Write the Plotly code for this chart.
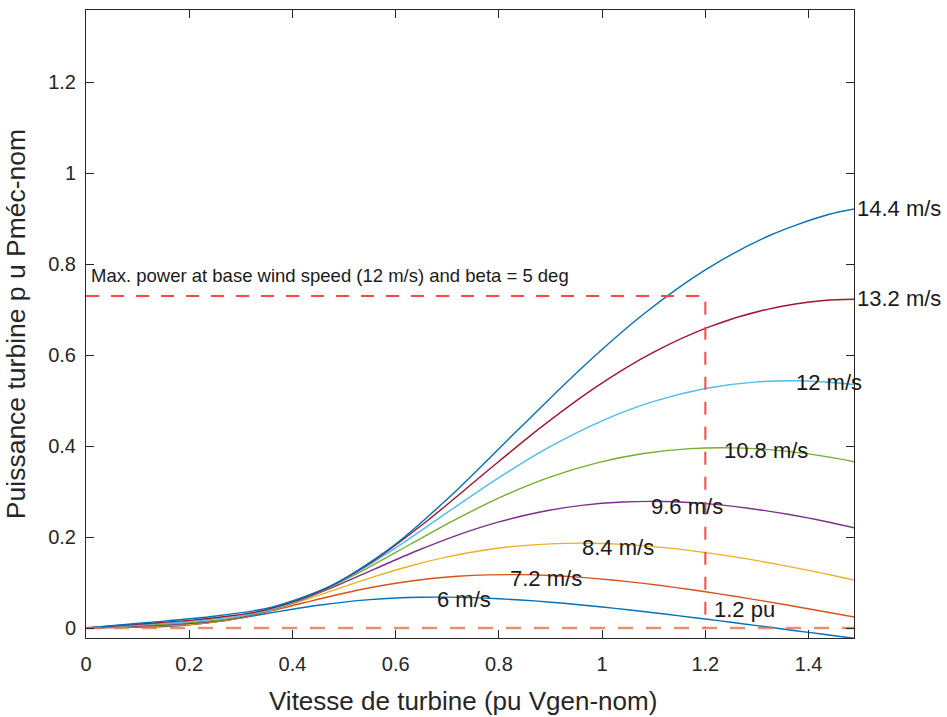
import plotly.graph_objects as go

# ---------------- data ----------------
wind_labels = ["6 m/s", "7.2 m/s", "8.4 m/s", "9.6 m/s", "10.8 m/s", "12 m/s", "13.2 m/s", "14.4 m/s"]
curve_colors = ["#0072BD", "#D95319", "#EDB120", "#7E2F8E", "#77AC30", "#4DBEEE", "#A2142F", "#0072BD"]

x_6 = [0, 0.05, 0.10, 0.15, 0.20, 0.25, 0.30, 0.35, 0.40, 0.45, 0.50, 0.55, 0.60, 0.65, 0.70, 0.75,
       0.80, 0.85, 0.90, 0.95, 1.00, 1.05, 1.10, 1.15, 1.20, 1.25, 1.30, 1.35, 1.40, 1.45, 1.50]
y_6 = [0, 0.00087, 0.00178, 0.00332, 0.00693, 0.01336, 0.02205, 0.03176, 0.04133, 0.04990, 0.05696,
       0.06228, 0.06582, 0.06765, 0.06791, 0.06678, 0.06443, 0.06104, 0.05676, 0.05175, 0.04614,
       0.04004, 0.03354, 0.02674, 0.01970, 0.01250, 0.00518, -0.00221, -0.00964, -0.01706, -0.02447]

x_72 = [0, 0.06, 0.12, 0.18, 0.24, 0.30, 0.36, 0.42, 0.48, 0.54, 0.60, 0.66, 0.72, 0.78, 0.84, 0.90,
        0.96, 1.02, 1.08, 1.14, 1.20, 1.26, 1.32, 1.38, 1.44, 1.50]
y_72 = [0, 0.00151, 0.00308, 0.00573, 0.01197, 0.02309, 0.03810, 0.05488, 0.07142, 0.08623, 0.09843,
        0.10762, 0.11373, 0.11689, 0.11734, 0.11539, 0.11133, 0.10547, 0.09808, 0.08943, 0.07973,
        0.06918, 0.05796, 0.04620, 0.03405, 0.02160]

x_84 = [0, 0.07, 0.14, 0.21, 0.28, 0.35, 0.42, 0.49, 0.56, 0.63, 0.70, 0.77, 0.84, 0.91, 0.98, 1.05,
        1.12, 1.19, 1.26, 1.33, 1.40, 1.47, 1.54]
y_84 = [0, 0.00239, 0.00489, 0.00910, 0.01901, 0.03667, 0.06050, 0.08715, 0.11341, 0.13693, 0.15630,
        0.17089, 0.18060, 0.18562, 0.18634, 0.18323, 0.17679, 0.16748, 0.15575, 0.14201, 0.12660,
        0.10986, 0.09203]

x_96 = [0, 0.08, 0.16, 0.24, 0.32, 0.40, 0.48, 0.56, 0.64, 0.72, 0.80, 0.88, 0.96, 1.04, 1.12, 1.20,
        1.28, 1.36, 1.44, 1.52]
y_96 = [0, 0.00357, 0.00730, 0.01359, 0.02838, 0.05473, 0.09030, 0.13009, 0.16928, 0.20440, 0.23331,
        0.25509, 0.26958, 0.27707, 0.27815, 0.27352, 0.26389, 0.25000, 0.23249, 0.21197]

x_108 = [0, 0.09, 0.18, 0.27, 0.36, 0.45, 0.54, 0.63, 0.72, 0.81, 0.90, 0.99, 1.08, 1.17, 1.26, 1.35,
         1.44, 1.53]
y_108 = [0, 0.00509, 0.01039, 0.01935, 0.04040, 0.07793, 0.12857, 0.18523, 0.24103, 0.29103, 0.33220,
         0.36320, 0.38383, 0.39451, 0.39604, 0.38944, 0.37573, 0.35596]

x_12 = [0, 0.1, 0.2, 0.3, 0.4, 0.5, 0.6, 0.7, 0.8, 0.9, 1.0, 1.1, 1.2, 1.3, 1.4, 1.5]
y_12 = [0, 0.00698, 0.01425, 0.02654, 0.05542, 0.10690, 0.17637, 0.25409, 0.33063, 0.39922, 0.45569,
        0.49822, 0.52652, 0.54116, 0.54326, 0.53421]

x_132 = [0, 0.11, 0.22, 0.33, 0.44, 0.55, 0.66, 0.77, 0.88, 0.99, 1.10, 1.21, 1.32, 1.43, 1.54]
y_132 = [0, 0.00929, 0.01897, 0.03533, 0.07376, 0.14228, 0.23475, 0.33819, 0.44007, 0.53136, 0.60652,
         0.66313, 0.70080, 0.72028, 0.72308]

x_144 = [0, 0.12, 0.24, 0.36, 0.48, 0.60, 0.72, 0.84, 0.96, 1.08, 1.20, 1.32, 1.44, 1.56]
y_144 = [0, 0.01206, 0.02462, 0.04586, 0.09577, 0.18472, 0.30477, 0.43907, 0.57133, 0.68985, 0.78743,
         0.86092, 0.90983, 0.93512]

curves_x = [x_6, x_72, x_84, x_96, x_108, x_12, x_132, x_144]
curves_y = [y_6, y_72, y_84, y_96, y_108, y_12, y_132, y_144]

# curve label positions (left edge, vertical middle); None -> just right of the axes box
label_x = [0.676, 0.818, 0.958, 1.090, 1.232, 1.372, None, None]
label_y = [0.062, 0.109, 0.176, 0.268, 0.391, 0.539, 0.725, 0.923]

# reference lines
max_power_x = [0, 1.2, 1.2]
max_power_y = [0.73, 0.73, 0]
zero_line_x = [0, 1.488]
zero_line_y = [0, 0]

x_ticks = [0, 0.2, 0.4, 0.6, 0.8, 1.0, 1.2, 1.4]
x_tick_text = ["0", "0.2", "0.4", "0.6", "0.8", "1", "1.2", "1.4"]
y_ticks = [0, 0.2, 0.4, 0.6, 0.8, 1.0, 1.2]
y_tick_text = ["0", "0.2", "0.4", "0.6", "0.8", "1", "1.2"]

x_range = [0, 1.488]
y_range = [-0.022, 1.359]

FONT = "Liberation Sans, Arial, Helvetica, sans-serif"
INK = "#262626"
TXT = "#1a1a1a"

fig = go.Figure()
for xs, ys, col, name in zip(curves_x, curves_y, curve_colors, wind_labels):
    fig.add_trace(go.Scatter(x=xs, y=ys, mode="lines", name=name,
                             line=dict(color=col, width=1.4, shape="spline", smoothing=0.8)))

fig.add_trace(go.Scatter(x=zero_line_x, y=zero_line_y, mode="lines",
                         line=dict(color="rgba(225,115,80,0.8)", width=2.5, dash="15px,13px")))
fig.add_trace(go.Scatter(x=max_power_x, y=max_power_y, mode="lines",
                         line=dict(color="#FF4545", width=2, dash="13px,12px")))

annotations = []
for lx, ly, txt in zip(label_x, label_y, wind_labels):
    if lx is None:
        annotations.append(dict(x=1.0, y=ly, xref="paper", yref="y", text=txt, showarrow=False,
                                xanchor="left", yanchor="middle", xshift=1,
                                font=dict(family=FONT, size=22, color=TXT)))
    else:
        annotations.append(dict(x=lx, y=ly, xref="x", yref="y", text=txt, showarrow=False,
                                xanchor="left", yanchor="middle",
                                font=dict(family=FONT, size=22, color=TXT)))
annotations.append(dict(x=1.2120, y=0.040, xref="x", yref="y", text="1.2 pu", showarrow=False,
                        xanchor="left", yanchor="middle",
                        font=dict(family=FONT, size=22, color=TXT)))
annotations.append(dict(x=0.0066, y=0.776, xref="x", yref="y",
                        text="Max. power at base wind speed (12 m/s) and beta = 5 deg",
                        showarrow=False, xanchor="left", yanchor="middle",
                        font=dict(family=FONT, size=18.5, color=TXT)))
# x-axis title (placed slightly left of centre as in the reference)
annotations.append(dict(x=0.491, y=-0.1003, xref="paper", yref="paper",
                        text="Vitesse de turbine (pu Vgen-nom)", showarrow=False,
                        xanchor="center", yanchor="middle",
                        font=dict(family=FONT, size=26, color=INK)))

axis_common = dict(showline=True, linecolor=INK, linewidth=1, mirror="ticks",
                   ticks="inside", ticklen=8, tickwidth=1, tickcolor=INK,
                   showgrid=False, zeroline=False,
                   tickfont=dict(family=FONT, size=20, color=INK))

fig.update_layout(
    width=947, height=717,
    margin=dict(l=86, r=93, t=10, b=79),
    paper_bgcolor="white", plot_bgcolor="white",
    showlegend=False,
    annotations=annotations,
    xaxis=dict(range=x_range, tickvals=x_ticks, ticktext=x_tick_text,
               ticklabelstandoff=8, **axis_common),
    yaxis=dict(range=y_range, tickvals=y_ticks, ticktext=y_tick_text,
               ticklabelstandoff=5,
               title=dict(text="Puissance turbine p u Pméc-nom",
                          font=dict(family=FONT, size=26.5, color=INK), standoff=14),
               **axis_common),
)

fig.write_html("out.html")
